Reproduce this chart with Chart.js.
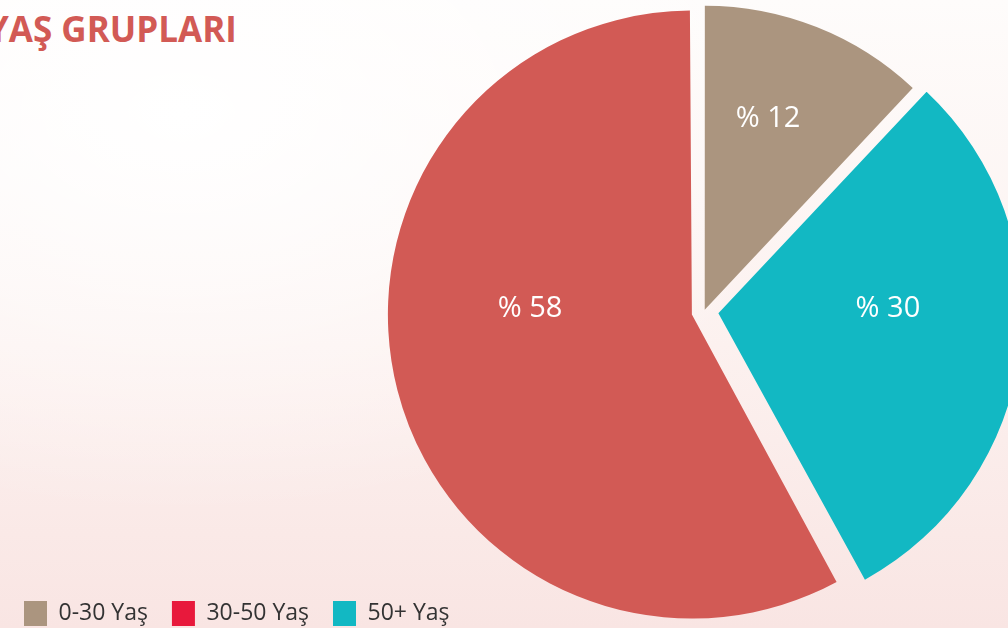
<!DOCTYPE html>
<html lang="tr">
<head>
<meta charset="utf-8">
<script src="https://cdn.jsdelivr.net/npm/chart.js@4.4.1/dist/chart.umd.min.js"></script>
<style>
  html, body { margin: 0; width: 1008px; height: 628px; overflow: hidden; }
  body {
    position: relative;
    background:
      radial-gradient(ellipse at 18% 18%, #ffffff 0%, rgba(255,255,255,0) 55%),
      linear-gradient(180deg, #fefcfb 0%, #fcf1ef 55%, #f9e5e3 100%);
  }
  #title {
    position: absolute; left: -13px; top: 11px; margin: 0;
    font: 700 35px/1 "Open Sans", sans-serif; color: #d25a55; white-space: nowrap;
  }
  #wrap { position: absolute; left: 0; top: 0; width: 1408px; height: 628px; }
</style>
</head>
<body>
<h1 id="title">YAŞ GRUPLARI</h1>
<div id="wrap"><canvas id="chart"></canvas></div>
<script>
// slices in drawing order (clockwise from 12 o'clock)
const labels = ["0-30 Yaş", "50+ Yaş", "30-50 Yaş"]
const values = [12, 30, 58]
const sliceColors = ["#ab957f", "#12b8c3", "#d25a55"]

// legend reads in age order, with its own swatch colours
const legendOrder = ["0-30 Yaş", "30-50 Yaş", "50+ Yaş"]
const legendColors = { "0-30 Yaş": "#ab957f", "30-50 Yaş": "#e8193c", "50+ Yaş": "#12b8c3" }

// explode amounts (chart.js offset units) and where the % labels sit
const offsets = [8, 58, 50]
const labelFrac = [0.667, 0.558, 0.533]
const labelTurn = [-3.4, -9.3, 17.1]

// chart.js grows arcs wider than 180deg by their offset; keep every slice the same radius
const evenRadius = {
  id: "evenRadius",
  beforeDatasetsDraw(chart) {
    const meta = chart.getDatasetMeta(0)
    const R = meta.controller.outerRadius
    meta.data.forEach((arc, i) => {
      const fix = 1 - Math.sin(Math.min(Math.PI, arc.circumference))
      arc.outerRadius = R - (offsets[i] / 4) * fix
    })
  }
}

const percentLabels = {
  id: "percentLabels",
  afterDatasetsDraw(chart) {
    const { ctx } = chart
    const meta = chart.getDatasetMeta(0)
    const R = meta.controller.outerRadius
    ctx.save()
    ctx.fillStyle = "#ffffff"
    ctx.font = "400 29px 'Open Sans'"
    ctx.textAlign = "center"
    ctx.textBaseline = "middle"
    meta.data.forEach((arc, i) => {
      const mid = (arc.startAngle + arc.endAngle) / 2
      const t = offsets[i] / 4
      const cx = arc.x + Math.cos(mid) * t
      const cy = arc.y + Math.sin(mid) * t
      const a = mid + labelTurn[i] * Math.PI / 180
      const d = labelFrac[i] * R
      ctx.fillText("% " + values[i], cx + Math.cos(a) * d, cy + Math.sin(a) * d + 2)
    })
    ctx.restore()
  }
}

new Chart(document.getElementById("chart"), {
  type: "pie",
  data: {
    labels,
    datasets: [{
      data: values,
      backgroundColor: sliceColors,
      borderWidth: 0,
      offset: offsets
    }]
  },
  options: {
    responsive: true,
    maintainAspectRatio: false,
    animation: false,
    events: [],
    radius: 304,
    layout: { padding: { top: 46, bottom: -8, left: 0, right: 0 } },
    plugins: {
      tooltip: { enabled: false },
      legend: {
        position: "bottom",
        align: "start",
        labels: {
          color: "#333333",
          font: { family: "'Open Sans'", size: 23 },
          boxWidth: 23,
          boxHeight: 25,
          padding: 24,
          sort: (a, b) => legendOrder.indexOf(a.text) - legendOrder.indexOf(b.text),
          generateLabels(chart) {
            const items = Chart.overrides.pie.plugins.legend.labels.generateLabels(chart)
            return items.map(it => Object.assign(it, {
              fillStyle: legendColors[it.text],
              strokeStyle: legendColors[it.text],
              lineWidth: 0
            }))
          }
        }
      }
    }
  },
  plugins: [evenRadius, percentLabels]
})
</script>
</body>
</html>
